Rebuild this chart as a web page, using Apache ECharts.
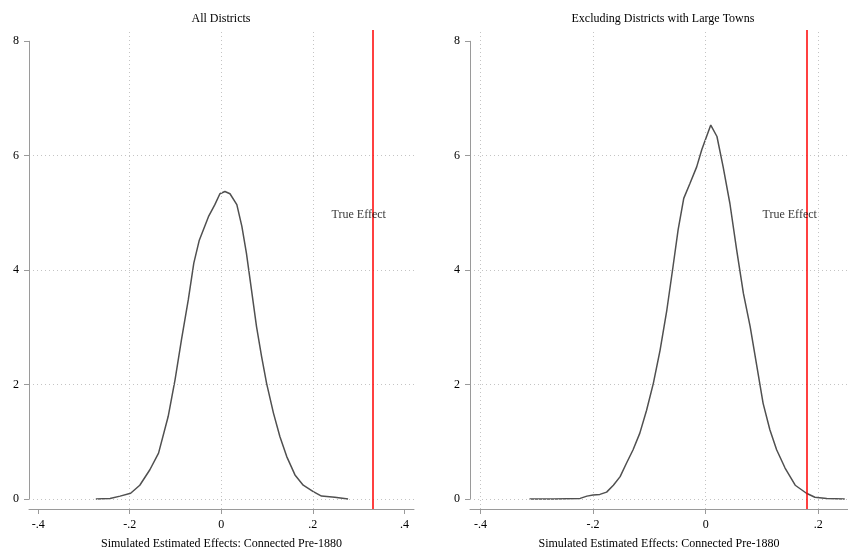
<!DOCTYPE html>
<html><head><meta charset="utf-8">
<script src="https://cdn.jsdelivr.net/npm/echarts@6/dist/echarts.min.js"></script>
<style>html,body{margin:0;padding:0;background:#fff}#c{width:848px;height:550px}</style>
</head><body><div id="c"></div>
<script>
// ---- data ----
const panelTitles = ['All Districts', 'Excluding Districts with Large Towns'];
const xAxisTitle = 'Simulated Estimated Effects: Connected Pre-1880';
const xTickValues = [-0.4, -0.2, 0, 0.2, 0.4];
const yTickValues = [0, 2, 4, 6, 8];

const leftX = [-0.274,-0.243,-0.221,-0.198,-0.178,-0.156,-0.137,-0.116,-0.101,-0.087,-0.072,-0.060,-0.048,-0.028,-0.014,-0.003,0.008,0.019,0.034,0.045,0.055,0.066,0.077,0.088,0.099,0.114,0.128,0.143,0.161,0.179,0.201,0.219,0.248,0.277];
const leftY = [0.0,0.01,0.05,0.10,0.24,0.51,0.80,1.44,2.08,2.78,3.48,4.12,4.52,4.93,5.14,5.33,5.37,5.33,5.14,4.76,4.29,3.65,3.01,2.49,2.02,1.50,1.09,0.74,0.42,0.24,0.13,0.05,0.03,0.0];

const rightX = [-0.313,-0.271,-0.223,-0.211,-0.200,-0.188,-0.176,-0.164,-0.152,-0.141,-0.129,-0.117,-0.105,-0.093,-0.081,-0.069,-0.058,-0.049,-0.039,-0.028,-0.016,-0.007,0.009,0.020,0.031,0.043,0.055,0.067,0.079,0.091,0.102,0.114,0.126,0.141,0.159,0.179,0.194,0.215,0.247];
const rightY = [0,0,0.01,0.05,0.07,0.08,0.12,0.24,0.39,0.62,0.86,1.15,1.55,2.02,2.60,3.30,4.06,4.70,5.25,5.51,5.80,6.10,6.53,6.33,5.80,5.16,4.35,3.59,3.01,2.31,1.67,1.21,0.86,0.54,0.24,0.10,0.03,0.01,0.0];

const trueEffects = [0.33, 0.182];
const trueEffectLabel = 'True Effect';
const trueEffectLabelPos = [[0.241, 4.96], [0.101, 4.96]];

const xGridValues = [[-0.2, 0, 0.2], [-0.4, -0.2, 0, 0.2]];
const yGridValues = [0, 2, 4, 6];

// ---- layout/style ----
const FONT = '"Liberation Serif", "Times New Roman", serif';
const xRanges = [[-0.42, 0.421], [-0.4187, 0.2528]];
const yRange = [-0.175, 8.19];
const grids = [
  {left: 29, top: 30, width: 385, bottom: 41, outerBoundsMode: 'none', containLabel: false},
  {left: 470, top: 30, right: 0, bottom: 41, outerBoundsMode: 'none', containLabel: false}
];
const titleCenters = [221, 663];
const AXIS_COLOR = '#9a9a9a';
const GRID_COLOR = '#c4c4c4';

function fmt(v) {
  if (Math.abs(v) < 1e-9) return '0';
  const s = String(+Math.abs(v).toFixed(2)).replace(/^0/, '');
  return (v < 0 ? '-' : '') + s;
}

const curves = [leftX.map((x, i) => [x, leftY[i]]), rightX.map((x, i) => [x, rightY[i]])];

const option = {
  animation: false,
  backgroundColor: '#fff',
  title: panelTitles.map((t, i) => ({
    text: t, left: titleCenters[i], top: 13, textAlign: 'center', padding: 0,
    textStyle: {fontFamily: FONT, fontSize: 12, fontWeight: 'normal', color: '#000'}
  })),
  grid: grids,
  xAxis: [0, 1].map(i => ({
    type: 'value', gridIndex: i, min: xRanges[i][0], max: xRanges[i][1],
    name: xAxisTitle, nameLocation: 'middle', nameGap: 29,
    nameTextStyle: {fontFamily: FONT, fontSize: 12, color: '#000'},
    axisLine: {show: true, onZero: false, lineStyle: {color: AXIS_COLOR, width: 1}},
    axisTick: {show: true, length: 5, lineStyle: {color: AXIS_COLOR},
      customValues: xTickValues.filter(v => v >= xRanges[i][0] && v <= xRanges[i][1])},
    axisLabel: {show: true, margin: 10, fontFamily: FONT, fontSize: 12, color: '#000',
      customValues: xTickValues.filter(v => v >= xRanges[i][0] && v <= xRanges[i][1]),
      formatter: fmt},
    splitLine: {show: false}
  })),
  yAxis: [0, 1].map(i => ({
    type: 'value', gridIndex: i, min: yRange[0], max: yRange[1],
    axisLine: {show: false, onZero: false},
    axisTick: {show: true, length: 5, lineStyle: {color: AXIS_COLOR}, customValues: yTickValues},
    axisLabel: {show: true, margin: 10, fontFamily: FONT, fontSize: 12, color: '#000',
      customValues: yTickValues, formatter: fmt},
    splitLine: {show: false}
  })),
  series: []
};

[0, 1].forEach(i => {
  // grid lines
  option.series.push({
    type: 'line', xAxisIndex: i, yAxisIndex: i, data: curves[i], z: 1,
    showSymbol: false, silent: true, lineStyle: {opacity: 0},
    markLine: {
      silent: true, symbol: ['none', 'none'], label: {show: false},
      lineStyle: {color: GRID_COLOR, width: 1, type: [1, 3]},
      data: xGridValues[i].map(v => ({xAxis: v})).concat(yGridValues.map(v => ({yAxis: v})))
    }
  });
  // y axis line (spans tick range)
  option.series.push({
    type: 'line', xAxisIndex: i, yAxisIndex: i, data: curves[i], z: 3, clip: false,
    showSymbol: false, silent: true, lineStyle: {opacity: 0},
    markLine: {
      silent: true, symbol: ['none', 'none'], label: {show: false},
      lineStyle: {color: AXIS_COLOR, width: 1, type: 'solid'},
      data: [[{coord: [xRanges[i][0], yTickValues[0]]}, {coord: [xRanges[i][0], yTickValues[yTickValues.length - 1]]}]]
    }
  });
  // density curve + true effect line
  option.series.push({
    type: 'line', xAxisIndex: i, yAxisIndex: i, data: curves[i], z: 4,
    showSymbol: false, smooth: false,
    lineStyle: {color: '#505050', width: 1.5},
    markLine: {
      silent: true, symbol: ['none', 'none'], label: {show: false},
      lineStyle: {color: '#ff0000', width: 1.5, type: 'solid'},
      data: [{xAxis: trueEffects[i]}]
    }
  });
  // label
  option.series.push({
    type: 'scatter', xAxisIndex: i, yAxisIndex: i, z: 5,
    data: [trueEffectLabelPos[i]], symbolSize: 0, silent: true,
    label: {show: true, position: 'right', distance: 0, formatter: trueEffectLabel,
      fontFamily: FONT, fontSize: 12, color: '#000'}
  });
});

const chart = echarts.init(document.getElementById('c'), null, {renderer: 'canvas'});
chart.setOption(option);
</script>
</body></html>
